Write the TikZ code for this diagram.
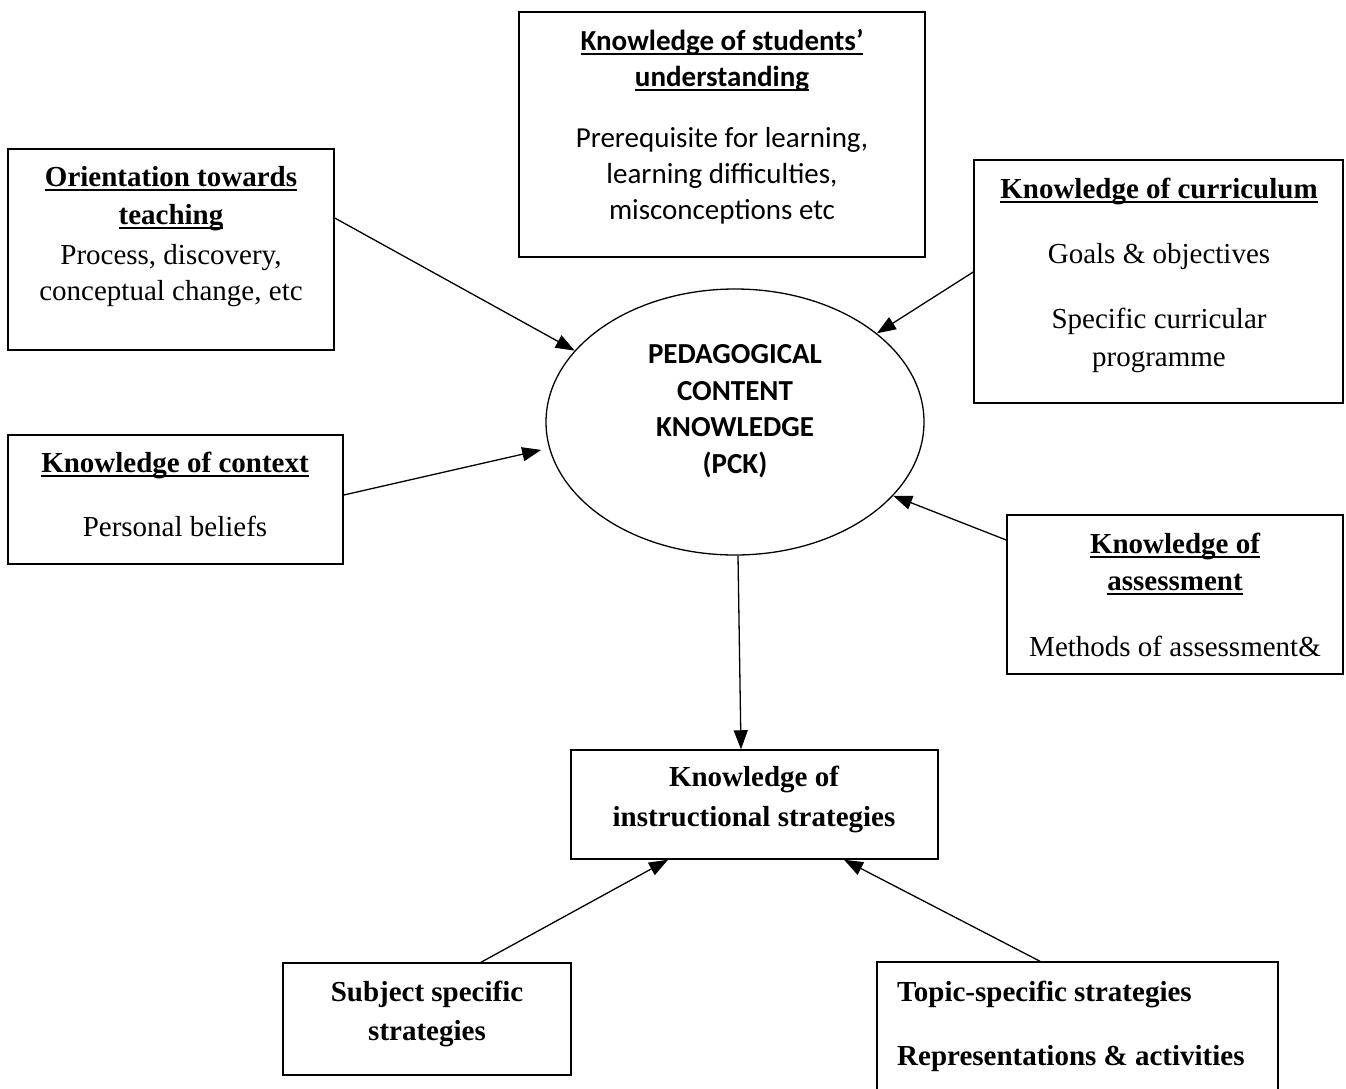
\documentclass[tikz,border=0pt]{standalone}
\usepackage{fontspec}
\setmainfont{Liberation Serif}
\newfontfamily\calfont{Carlito}
\usetikzlibrary{arrows.meta,calc,shapes.geometric}
\newcommand{\myul}[1]{\leavevmode\setbox0\hbox{#1}\rlap{\rule[-5pt]{\wd0}{1.8pt}}\box0}
\begin{document}
\begin{tikzpicture}[x=1pt,y=-1pt,
  box/.style={draw,line width=1.5pt,inner sep=0pt,rectangle},
  txt/.style={inner sep=0pt,font=\fontsize{29}{33}\selectfont,text height=20pt,text depth=6pt},
  ctxt/.style={txt,font=\fontsize{29}{33}\selectfont\calfont},
  arr/.style={line width=1.3pt,-{Triangle[length=19pt,width=14pt]}}]
\useasboundingbox (0,0) rectangle (1346,1088);
\fill[white] (0,0) rectangle (1346,1088);

% boxes
\node[box,minimum width=326pt,minimum height=201pt] (orient) at (171,249.5) {};
\node[box,minimum width=406pt,minimum height=245pt] (stud) at (722,134.5) {};
\node[box,minimum width=369pt,minimum height=243pt] (curr) at (1158.5,281.5) {};
\node[box,minimum width=335pt,minimum height=129pt] (ctx) at (175.5,499.5) {};
\node[box,minimum width=336pt,minimum height=159pt] (assess) at (1175,594.5) {};
\node[box,minimum width=367pt,minimum height=109pt] (instr) at (754.5,804.5) {};
\node[box,minimum width=288pt,minimum height=112pt] (subj) at (427,1019) {};
\node[box,minimum width=401pt,minimum height=138pt] (topic) at (1077.5,1031) {};
\node[draw,ellipse,line width=1.3pt,inner sep=0pt,minimum width=378pt,minimum height=266pt] (pck) at (735,422) {};

% texts
\node[txt] (o1) at (171,179) {\bfseries\myul{Orientation towards}};
\node[txt] (o2) at (171,217) {\bfseries\myul{teaching}};
\node[txt] (o3) at (171,257) {Process, discovery,};
\node[txt] (o4) at (171,293) {conceptual change, etc};

\node[ctxt] (s1) at (722,43) {\bfseries\myul{Knowledge of students’}};
\node[ctxt] (s2) at (722,79) {\bfseries\myul{understanding}};
\node[ctxt] (s3) at (722,140) {Prerequisite for learning,};
\node[ctxt] (s4) at (722,176) {learning difficulties,};
\node[ctxt] (s5) at (722,212) {misconceptions etc};

\node[txt] (c1) at (1159,191) {\bfseries\myul{Knowledge of curriculum}};
\node[txt] (c2) at (1159,256) {Goals \& objectives};
\node[txt] (c3) at (1159,321) {Specific curricular};
\node[txt] (c4) at (1159,359) {programme};

\node[txt] (k1) at (175,465) {\bfseries\myul{Knowledge of context}};
\node[txt] (k2) at (175,529) {Personal beliefs};

\node[ctxt] (p1) at (735,356) {\bfseries PEDAGOGICAL};
\node[ctxt] (p2) at (735,393) {\bfseries CONTENT};
\node[ctxt] (p3) at (735,429) {\bfseries KNOWLEDGE};
\node[ctxt] (p4) at (735,466) {\bfseries (PCK)};

\node[txt] (a1) at (1175,546) {\bfseries\myul{Knowledge of}};
\node[txt] (a2) at (1175,583) {\bfseries\myul{assessment}};
\node[txt] (a3) at (1175,649) {Methods of assessment\&};

\node[txt] (i1) at (754,779) {\bfseries Knowledge of};
\node[txt] (i2) at (754,819) {\bfseries instructional strategies};

\node[txt] (u1) at (427,994) {\bfseries Subject specific};
\node[txt] (u2) at (427,1033) {\bfseries strategies};

\node[txt,anchor=west] (t1) at (897,994) {\bfseries Topic-specific strategies};
\node[txt,anchor=west] (t2) at (897,1058) {\bfseries Representations \& activities};

% connectors
\draw[arr] ($(orient.east)+(0,-31.5)$) -- (pck.156);
\draw[arr] ($(curr.west)+(0,-9.5)$) -- (pck.32);
\draw[arr,shorten >=8pt] ($(ctx.east)+(0,-4.5)$) -- (pck.188);
\draw[arr] ($(assess.west)+(0,-54.5)$) -- (pck.335);
\draw[arr] ($(pck.south)+(3,0)$) -- ($(instr.north)+(-13.5,0)$);
\draw[arr] ($(subj.north)+(54,0)$) -- ($(instr.south)+(-86.5,0)$);
\draw[arr] ($(topic.north)+(-37.5,0)$) -- ($(instr.south)+(89.5,0)$);
\end{tikzpicture}
\end{document}
